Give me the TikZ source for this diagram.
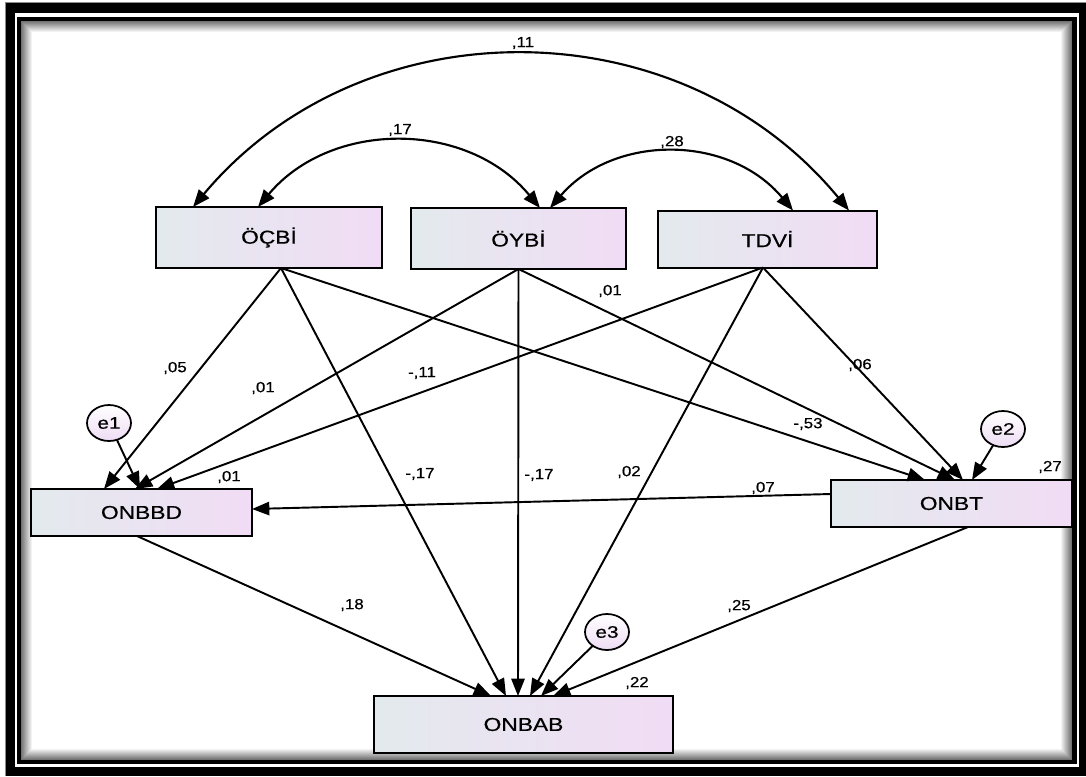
\documentclass[tikz,border=0pt]{standalone}
\usepackage{fontspec}
\setmainfont{Liberation Sans}
\newfontfamily\thickfont{Liberation Sans}[FakeBold=0.5]
\usepackage{graphicx}
\usetikzlibrary{arrows.meta,calc,shapes.geometric}
\definecolor{boxL}{HTML}{E3EAED}
\definecolor{boxR}{HTML}{F1DCF5}
\definecolor{errB}{HTML}{EEDCF4}
\newcommand\boxtxt[1]{\scalebox{1.22}[1]{\fontsize{14pt}{16pt}\thickfont #1}}
\newcommand\edgetxt[1]{\scalebox{1.15}[1]{\fontsize{11pt}{12pt}\thickfont #1}}
\newcommand\errtxt[1]{\scalebox{1.25}[1]{\fontsize{12.5pt}{13pt}\thickfont #1}}
\begin{document}
\begin{tikzpicture}[x=0.75pt,y=-0.75pt,
  varbox/.style={draw, line width=1.5pt, left color=boxL, right color=boxR, inner sep=0pt, outer sep=0pt},
  err/.style={ellipse, draw, line width=1.3pt, top color=white, bottom color=errB, minimum width=33pt, minimum height=27pt, inner sep=0pt, outer sep=0pt},
  link/.style={line width=1.45pt, -{Triangle[length=13pt,width=10pt]}},
  cov/.style={line width=1.6pt, {Triangle[length=13pt,width=10pt]}-{Triangle[length=13pt,width=10pt]}},
  lbl/.style={inner sep=0pt}]
\useasboundingbox (0,0) rectangle (1086,776);
% frame
\fill[white] (0,0) rectangle (1086,776);
\fill[black!45] (5,2) rectangle (1086,776);
\fill[black] (6,3) rectangle (1086,776);
\fill[white] (15,13) rectangle (1079,767);
\fill[black] (17,17) rectangle (1077,764);
\foreach \i in {0,...,11} {
  \pgfmathsetmacro\g{max(0,55-5*\i)}
  \fill[black!\g!white] (21+\i,21+\i) rectangle (1072-\i,760-\i);
}
% nodes
\node[varbox, minimum width=169.5pt, minimum height=45.75pt] (ocbi) at (269,237.5) {\boxtxt{ÖÇBİ}};
\node[varbox, minimum width=161.25pt, minimum height=45.75pt] (oybi) at (518.5,238.5) {\boxtxt{ÖYBİ}};
\node[varbox, minimum width=164.25pt, minimum height=42.75pt] (tdvi) at (767.5,239) {\boxtxt{TDVİ}};
\node[varbox, minimum width=165.75pt, minimum height=35.25pt] (onbbd) at (141.5,512.5) {\boxtxt{ONBBD}};
\node[varbox, minimum width=180.75pt, minimum height=35.25pt] (onbt) at (951.5,503.5) {\boxtxt{ONBT}};
\node[varbox, minimum width=224.25pt, minimum height=42.75pt] (onbab) at (523.5,724.5) {\boxtxt{ONBAB}};
\node[err] (e1) at (109,423) {\errtxt{e1}};
\node[err] (e2) at (1003,429) {\errtxt{e2}};
\node[err] (e3) at (607,632) {\errtxt{e3}};
% anchor points
\coordinate (ocbiS) at ($(ocbi.south)+(12,0)$);
\coordinate (oybiS) at (oybi.south);
\coordinate (tdviS) at ($(tdvi.south)+(-4.5,0)$);
\coordinate (bdA) at ($(onbbd.north)+(-37.5,0)$);
\coordinate (bdB) at ($(onbbd.north)+(-6.5,0)$);
\coordinate (bdE) at ($(onbbd.north)+(-1.5,0)$);
\coordinate (bdC) at ($(onbbd.north)+(15.5,0)$);
\coordinate (btA) at ($(onbt.north)+(-26.5,0)$);
\coordinate (btB) at ($(onbt.north)+(3.5,0)$);
\coordinate (btC) at ($(onbt.north)+(11.5,0)$);
\coordinate (btE) at ($(onbt.north)+(20.5,0)$);
\coordinate (abD) at ($(onbab.north)+(-32.5,0)$);
\coordinate (abA) at ($(onbab.north)+(-17.5,0)$);
\coordinate (abB) at ($(onbab.north)+(-5.5,0)$);
\coordinate (abC) at ($(onbab.north)+(6.5,0)$);
\coordinate (abE) at ($(onbab.north)+(17.5,0)$);
\coordinate (abT) at ($(onbab.north)+(29.5,0)$);
\coordinate (bdR) at ($(onbbd.east)+(0,-3.5)$);
\coordinate (btL) at ($(onbt.west)+(0,-9.5)$);
\coordinate (bdS) at ($(onbbd.south)+(-4.5,0)$);
\coordinate (btS) at ($(onbt.south)+(16.5,0)$);
\coordinate (ocbiN1) at ($(ocbi.north)+(-76,0)$);
\coordinate (ocbiN2) at ($(ocbi.north)+(-11,0)$);
\coordinate (oybiN1) at ($(oybi.north)+(21.5,0)$);
\coordinate (oybiN2) at ($(oybi.north)+(31.5,0)$);
\coordinate (tdviN1) at ($(tdvi.north)+(25.5,0)$);
\coordinate (tdviN2) at ($(tdvi.north)+(81.5,0)$);
% covariances
\draw[cov] (ocbiN1) .. controls +(170,-203) and +(-170,-206) .. (tdviN2);
\draw[cov] (ocbiN2) .. controls +(73,-87) and +(-73,-88) .. (oybiN1);
\draw[cov] (oybiN2) .. controls +(64,-74) and +(-64,-76.5) .. (tdviN1);
% paths
\draw[link] (ocbiS) -- (bdA);
\draw[link] (oybiS) -- (bdB);
\draw[link] (tdviS) -- (bdC);
\draw[link] (e1) -- (bdE);
\draw[link] (ocbiS) -- (btA);
\draw[link] (oybiS) -- (btB);
\draw[link] (tdviS) -- (btC);
\draw[link] (e2) -- (btE);
\draw[link] (ocbiS) -- (abA);
\draw[link] (oybiS) -- (abB);
\draw[link] (tdviS) -- (abC);
\draw[link] (e3) -- (abE);
\draw[link] (bdS) -- (abD);
\draw[link] (btS) -- (abT);
\draw[link] (btL) -- (bdR);
% labels
\node[lbl] (l1) at (523,43) {\edgetxt{,11}};
\node[lbl] (l2) at (400,130) {\edgetxt{,17}};
\node[lbl] (l3) at (672,142) {\edgetxt{,28}};
\node[lbl] (l4) at (175,368) {\edgetxt{,05}};
\node[lbl] (l5) at (263,388) {\edgetxt{,01}};
\node[lbl] (l6) at (422,373) {\edgetxt{-,11}};
\node[lbl] (l7) at (610,291) {\edgetxt{,01}};
\node[lbl] (l8) at (860,365) {\edgetxt{,06}};
\node[lbl] (l9) at (808,424) {\edgetxt{-,53}};
\node[lbl] (l10) at (420,474) {\edgetxt{-,17}};
\node[lbl] (l11) at (539,475) {\edgetxt{-,17}};
\node[lbl] (l12) at (629,472) {\edgetxt{,02}};
\node[lbl] (l13) at (763,488) {\edgetxt{,07}};
\node[lbl] (l14) at (229,477) {\edgetxt{,01}};
\node[lbl] (l15) at (1050,467) {\edgetxt{,27}};
\node[lbl] (l16) at (352,605) {\edgetxt{,18}};
\node[lbl] (l17) at (739,606) {\edgetxt{,25}};
\node[lbl] (l18) at (637,683) {\edgetxt{,22}};
\end{tikzpicture}
\end{document}
